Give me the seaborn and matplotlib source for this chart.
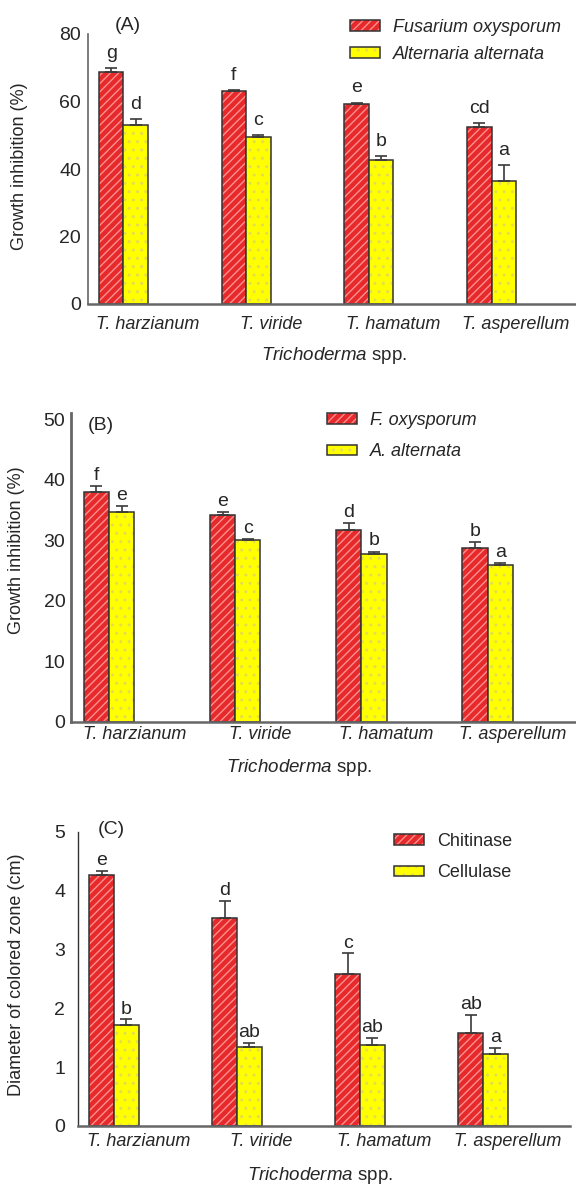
import numpy as np
import pandas as pd
import matplotlib
matplotlib.use('Agg')
import matplotlib.pyplot as plt
import seaborn as sns
from matplotlib.colors import to_rgba

strains = ['T. harzianum', 'T. viride', 'T. hamatum', 'T. asperellum']

# panel A - growth inhibition, full names
fus_a = [68.8, 63.0, 59.3, 52.5]
fus_a_err = [1.0, 0.4, 0.4, 1.1]
fus_a_let = ['g', 'f', 'e', 'cd']
alt_a = [53.1, 49.5, 42.7, 36.5]
alt_a_err = [1.7, 0.5, 1.2, 4.7]
alt_a_let = ['d', 'c', 'b', 'a']

# panel B - growth inhibition, short names
fus_b = [38.0, 34.1, 31.6, 28.7]
fus_b_err = [1.0, 0.5, 1.2, 1.0]
fus_b_let = ['f', 'e', 'd', 'b']
alt_b = [34.6, 30.0, 27.7, 25.9]
alt_b_err = [1.0, 0.2, 0.4, 0.25]
alt_b_let = ['e', 'c', 'b', 'a']

# panel C - enzyme activity
chit = [4.27, 3.53, 2.59, 1.59]
chit_err = [0.07, 0.30, 0.35, 0.30]
chit_let = ['e', 'd', 'c', 'ab']
cell = [1.72, 1.34, 1.37, 1.23]
cell_err = [0.10, 0.08, 0.13, 0.10]
cell_let = ['b', 'ab', 'ab', 'a']

RED = '#e6292b'
YEL = '#ffff00'

sns.set_style('white')
FONT = ['Liberation Sans', 'DejaVu Sans']
plt.rcParams['font.family'] = FONT
plt.rcParams['font.size'] = 13
plt.rcParams['mathtext.fontset'] = 'custom'
plt.rcParams['mathtext.rm'] = 'Liberation Sans'
plt.rcParams['mathtext.it'] = 'Liberation Sans:italic'
plt.rcParams['hatch.linewidth'] = 1.0

W, H = 576, 1186
fig = plt.figure(figsize=(W / 100, H / 100), dpi=100)


def add_ax(l, t, r, b):
    return fig.add_axes([l / W, 1 - b / H, (r - l) / W, (b - t) / H])


def panel(ax, names, v1, v2, e1, e2, l1, l2, ylim, yticks, ylabel, gap,
          xlim, leg_italic, spacing):
    df = pd.DataFrame({'strain': strains * 2,
                       'value': v1 + v2,
                       'series': [names[0]] * 4 + [names[1]] * 4})
    sns.barplot(data=df, x='strain', y='value', hue='series', order=strains,
                palette=[RED, YEL], saturation=1, width=0.4, errorbar=None,
                edgecolor='#333333', linewidth=1.1, legend=False, ax=ax)
    for cont, errs, lets, hatch, hc in zip(ax.containers, [e1, e2], [l1, l2],
                                           ['////', '..'],
                                           ['#ff8f8f', '#e6dc50']):
        for bar, err, let in zip(cont, errs, lets):
            bar.set_hatch(hatch)
            if hasattr(bar, 'set_hatchcolor'):
                bar.set_hatchcolor(hc)
            else:
                bar._hatch_color = to_rgba(hc)
            x = bar.get_x() + bar.get_width() / 2
            h = bar.get_height()
            ax.errorbar(x, h, yerr=[[0], [err]], fmt='none', ecolor='#3a3a3a',
                        elinewidth=1.2, capsize=4.5, capthick=1.2, zorder=3)
            ax.annotate(let, (x, h + err), xytext=(0, gap),
                        textcoords='offset points', ha='center', va='bottom',
                        fontsize=14)
    ax.set_xlim(*xlim)
    ax.set_ylim(*ylim)
    ax.set_yticks(yticks)
    ax.set_xticks(np.arange(len(strains)) + 0.2, labels=strains,
                  fontstyle='italic', fontsize=13)
    ax.set_ylabel(ylabel, fontsize=13)
    ax.set_xlabel(r'$\mathit{Trichoderma}$ spp.', fontsize=13.5)
    ax.tick_params(axis='y', length=0, labelsize=14)
    ax.tick_params(axis='x', length=0)
    sns.despine(ax=ax)
    ax.spines['bottom'].set_color('#666666')
    ax.spines['bottom'].set_linewidth(1.8)
    ax.spines['left'].set_color('#666666')
    ax.xaxis.label.set_va('center')
    ax.yaxis.label.set_va('center')
    leg = ax.legend(handles=list(ax.containers), labels=names, frameon=False,
                    handlelength=1.65, handleheight=0.55, borderpad=0,
                    borderaxespad=0, labelspacing=spacing, handletextpad=0.75,
                    prop={'family': FONT, 'size': 13,
                          'style': 'italic' if leg_italic else 'normal'},
                    loc='upper left', bbox_transform=fig.transFigure)
    return leg


# ---- (A)
axA = add_ax(88, 34, 576, 304)
legA = panel(axA, ['Fusarium oxysporum', 'Alternaria alternata'],
             fus_a, alt_a, fus_a_err, alt_a_err, fus_a_let, alt_a_let,
             (0, 80), [0, 20, 40, 60, 80], 'Growth inhibition (%)', 4.5,
             (-0.289, 3.688), True, 0.55)
legA.set_bbox_to_anchor((350 / W, 1 - 19 / H), transform=fig.transFigure)
axA.tick_params(axis='y', pad=5)
axA.tick_params(axis='x', pad=9)
axA.spines['left'].set_linewidth(1.2)
axA.xaxis.set_label_coords(0.504, -0.189)
axA.yaxis.set_label_coords((20 - 88) / 488, 0.51)
fig.text(128 / W, 1 - 25 / H, '(A)', ha='center', va='center', fontsize=14)

# ---- (B)
axB = add_ax(71, 413, 576, 721.5)
legB = panel(axB, ['F. oxysporum', 'A. alternata'],
             fus_b, alt_b, fus_b_err, alt_b_err, fus_b_let, alt_b_let,
             (0, 51), [0, 10, 20, 30, 40, 50], 'Growth inhibition (%)', 1.5,
             (-0.301, 3.70), True, 0.8)
legB.set_bbox_to_anchor((327 / W, 1 - 412 / H), transform=fig.transFigure)
axB.tick_params(axis='y', pad=4)
axB.tick_params(axis='x', pad=3)
axB.spines['left'].set_linewidth(2.0)
axB.xaxis.set_label_coords((299 - 71) / 505, -0.1475)
axB.yaxis.set_label_coords((16.5 - 71) / 505, 0.556)
fig.text(101 / W, 1 - 425 / H, '(B)', ha='center', va='center', fontsize=14)

# ---- (C)
axC = add_ax(77.7, 832, 570, 1126)
legC = panel(axC, ['Chitinase', 'Cellulase'],
             chit, cell, chit_err, cell_err, chit_let, cell_let,
             (0, 5), [0, 1, 2, 3, 4, 5], 'Diameter of colored zone (cm)', 1.0,
             (-0.295, 3.707), False, 0.8)
legC.set_bbox_to_anchor((394 / W, 1 - 833 / H), transform=fig.transFigure)
axC.tick_params(axis='y', pad=9)
axC.tick_params(axis='x', pad=5)
axC.spines['left'].set_linewidth(1.0)
axC.spines['left'].set_color('#333333')
axC.xaxis.set_label_coords((320 - 77.7) / 492.3, -0.167)
axC.yaxis.set_label_coords((16.5 - 77.7) / 492.3, 0.514)
fig.text(111 / W, 1 - 830 / H, '(C)', ha='center', va='center', fontsize=14)

fig.savefig('out.png', dpi=100)
